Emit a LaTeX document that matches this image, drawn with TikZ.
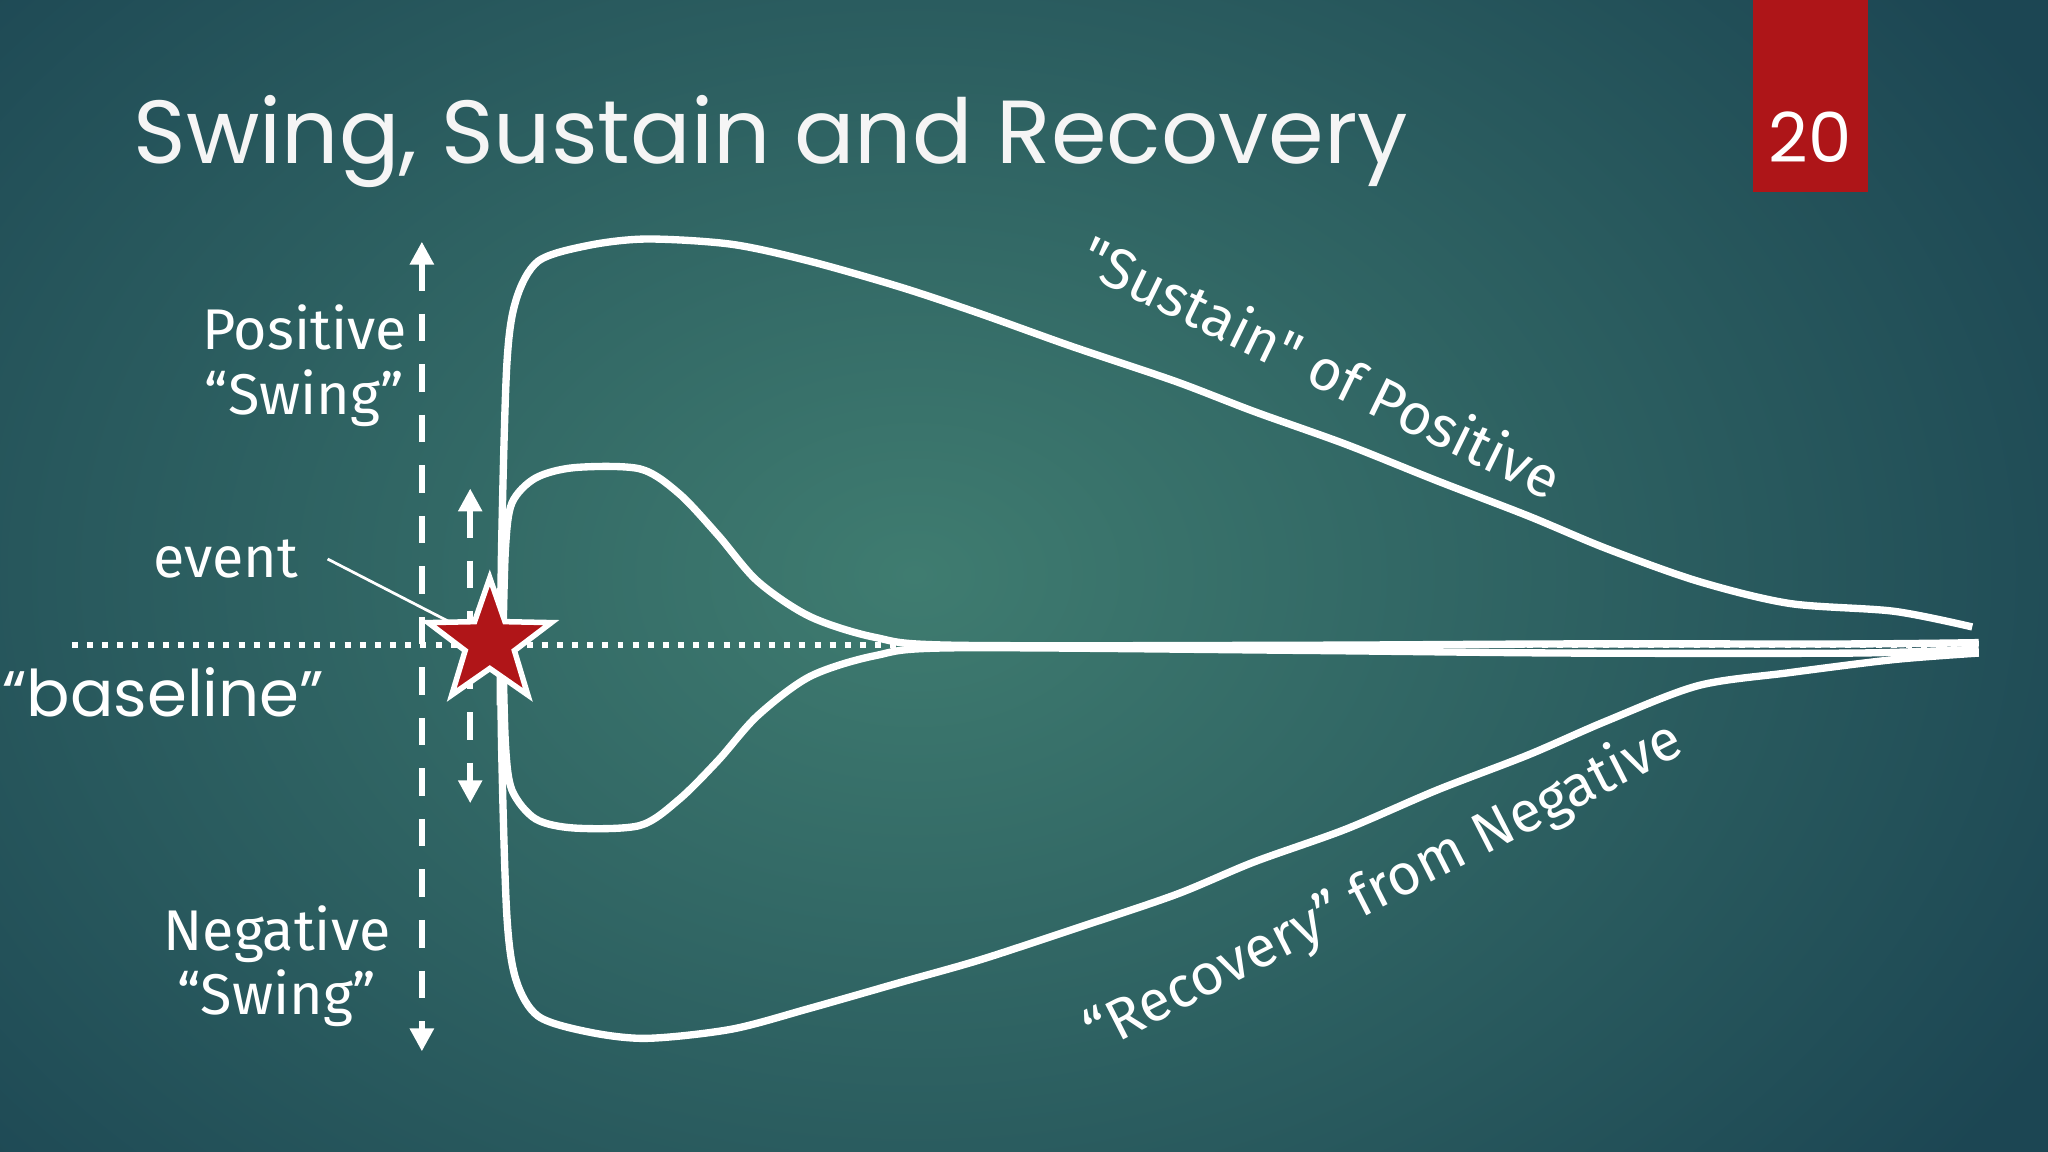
\documentclass[tikz,border=0pt]{standalone}
\usepackage{fontspec}
\setmainfont{Poppins}
\newfontfamily\hand{Fira Sans}
\usetikzlibrary{shapes.geometric,arrows.meta}
\definecolor{bgout}{HTML}{1C4653}
\definecolor{bgin}{HTML}{3F7C70}
\definecolor{boxred}{HTML}{AE1518}
\definecolor{starred}{HTML}{B01518}
\tikzset{
 curve/.style={white,line width=1.6pt,line join=round},
 lbl/.style={white,font=\hand\fontsize{12.5}{15}\selectfont,align=center},
 dasharrow/.style={white,line width=1.4pt,dash pattern=on 6pt off 5pt,{Triangle[width=5pt,length=5pt]}-{Triangle[width=5pt,length=5pt]}}
}
\begin{document}
\begin{tikzpicture}[x=0.01cm,y=-0.01cm]
\useasboundingbox (0,0) rectangle (1568,882);
\shade[inner color=bgin,outer color=bgout] (-300,-300) rectangle (1700,1180);
% red box
\fill[boxred] (1342,0) rectangle (1430,147);
\node[white,font=\fontsize{15}{18}\selectfont] (num) at (1386,105) {20};
\node[white!92!gray,font=\fontsize{19.5}{24}\selectfont,anchor=west] (title) at (90,108) {Swing, Sustain and Recovery};
% baseline
\coordinate (b0) at (55,494); \coordinate (b1) at (1515,494);
\draw[white,line width=1.3pt,dotted] (b0) -- (b1);
% dashed arrows
\coordinate (a0) at (323,185); \coordinate (a1) at (323,805);
\draw[dasharrow] (a0) -- (a1);
\coordinate (c0) at (360,374); \coordinate (c1) at (360,615);
\draw[dasharrow] (c0) -- (c1);
% curves
\draw[curve] plot[smooth,tension=0.5] coordinates {(383,540) (384,420) (388,280) (395,230) (412,200) (450,188) (495,183) (560,187) (620,200) (690,220) (750,240) (820,265) (900,292) (960,315) (1030,340) (1100,368) (1170,395) (1230,420) (1300,445) (1370,462) (1450,468) (1510,480)};
\draw[curve] plot[smooth,tension=0.5] coordinates {(383,450) (384,570) (388,700) (395,750) (412,778) (450,790) (495,795) (560,788) (620,772) (690,752) (750,735) (820,712) (900,685) (960,660) (1030,635) (1100,605) (1170,578) (1230,552) (1300,525) (1370,515) (1450,505) (1515,500)};
\draw[curve] plot[smooth,tension=0.5] coordinates {(385,495) (387,420) (392,385) (410,366) (440,358) (490,359) (520,378) (550,410) (580,445) (620,472) (670,488) (730,494) (1000,494) (1200,493) (1420,493) (1515,492)};
\draw[curve] plot[smooth,tension=0.5] coordinates {(385,495) (387,570) (392,605) (410,627) (440,634) (490,632) (520,612) (550,582) (580,548) (620,518) (670,502) (730,496) (1000,498) (1200,500) (1420,500) (1515,497)};
% event pointer and star
\node[lbl] (event) at (173,428) {event};
\draw[white,line width=0.6pt] (event.east) ++(10,0) coordinate (e0) -- (375,492);
\node[star,star points=5,star point ratio=2.5,fill=starred,draw=white,line width=1.2pt,minimum size=2.83cm*0.35,inner sep=0pt] (star) at (375,492) {};
% labels
\node[lbl] (pos) at (233,280) {Positive\\[-1pt]“Swing”};
\node[lbl] (neg) at (212,740) {Negative\\[-1pt]“Swing”};
\node[white,font=\fontsize{14}{17}\selectfont] (base) at (125,530) {“baseline”};
\node[lbl,rotate=-26] (sus) at (1012,280) {"Sustain" of Positive};
\node[lbl,rotate=27] (rec) at (1060,680) {“Recovery” from Negative};
\end{tikzpicture}
\end{document}
